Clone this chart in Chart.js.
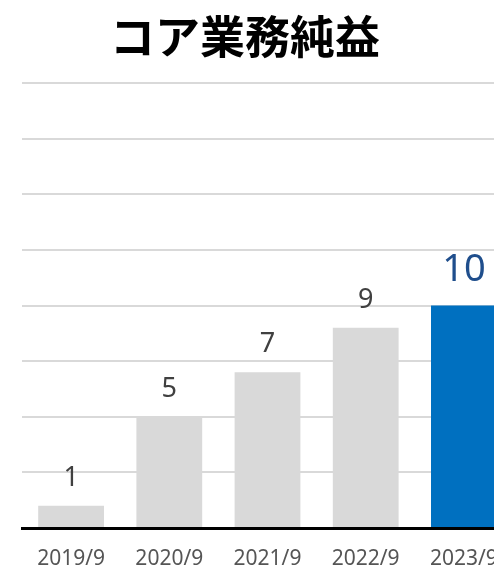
<!DOCTYPE html>
<html>
<head>
<meta charset="utf-8">
<script src="https://cdn.jsdelivr.net/npm/chart.js@4.4.0/dist/chart.umd.min.js"></script>
<style>
  html, body { margin: 0; padding: 0; background: #fff; overflow: hidden; }
  #wrap { position: relative; width: 514px; height: 572px; }
  #title {
    position: absolute; left: 0; top: 11px; width: 490px; text-align: center;
    font-family: "Noto Sans CJK JP"; font-weight: bold; font-size: 45px; line-height: 48px; color: #000;
  }
</style>
</head>
<body>
<div id="wrap">
  <div id="title">コア業務純益</div>
  <canvas id="core"></canvas>
</div>
<script>
let labels = ['2019/9', '2020/9', '2021/9', '2022/9', '2023/9'];
let values = [1, 5, 7, 9, 10];
let barColors = ['#d9d9d9', '#d9d9d9', '#d9d9d9', '#d9d9d9', '#0070c0'];

// ラベルを棒の上に描く
let valueLabels = {
    id: 'valueLabels',
    afterDatasetsDraw(chart) {
        let ctx = chart.ctx;
        let meta = chart.getDatasetMeta(0);
        ctx.save();
        ctx.textAlign = 'center';
        ctx.textBaseline = 'alphabetic';
        meta.data.forEach((bar, i) => {
            let last = i === values.length - 1;
            ctx.font = (last ? '38px' : '27px') + ' "Noto Sans"';
            ctx.fillStyle = last ? '#1f4e8c' : '#404040';
            ctx.fillText(String(values[i]), bar.x, bar.y - (last ? 25 : 20));
        });
        ctx.restore();
    }
};

let ctx = document.getElementById('core').getContext('2d');
let myChart = new Chart(ctx, {
    type: 'bar',
    data: {
        labels: labels,
        datasets: [{
            data: values,
            backgroundColor: barColors,
            categoryPercentage: 0.67,
            barPercentage: 1.0
        }]
    },
    options: {
        responsive: true,
        maintainAspectRatio: false,
        animation: false,
        layout: { padding: { left: 22, right: 1, top: 83, bottom: 0 } },
        plugins: {
            legend: { display: false },
            tooltip: { enabled: false }
        },
        scales: {
            x: {
                grid: { display: false },
                border: { display: true, color: '#000', width: 3 },
                ticks: { color: '#555555', font: { family: '"Noto Sans"', size: 21 }, padding: 10 },
                afterFit: s => { s.height = 44; }
            },
            y: {
                min: 0,
                max: 20,
                ticks: { display: false, stepSize: 2.5 },
                grid: { color: '#d9d9d9', lineWidth: 2, drawTicks: false },
                border: { display: false },
                afterFit: s => { s.width = 0; }
            }
        }
    },
    plugins: [valueLabels]
});
</script>
</body>
</html>
